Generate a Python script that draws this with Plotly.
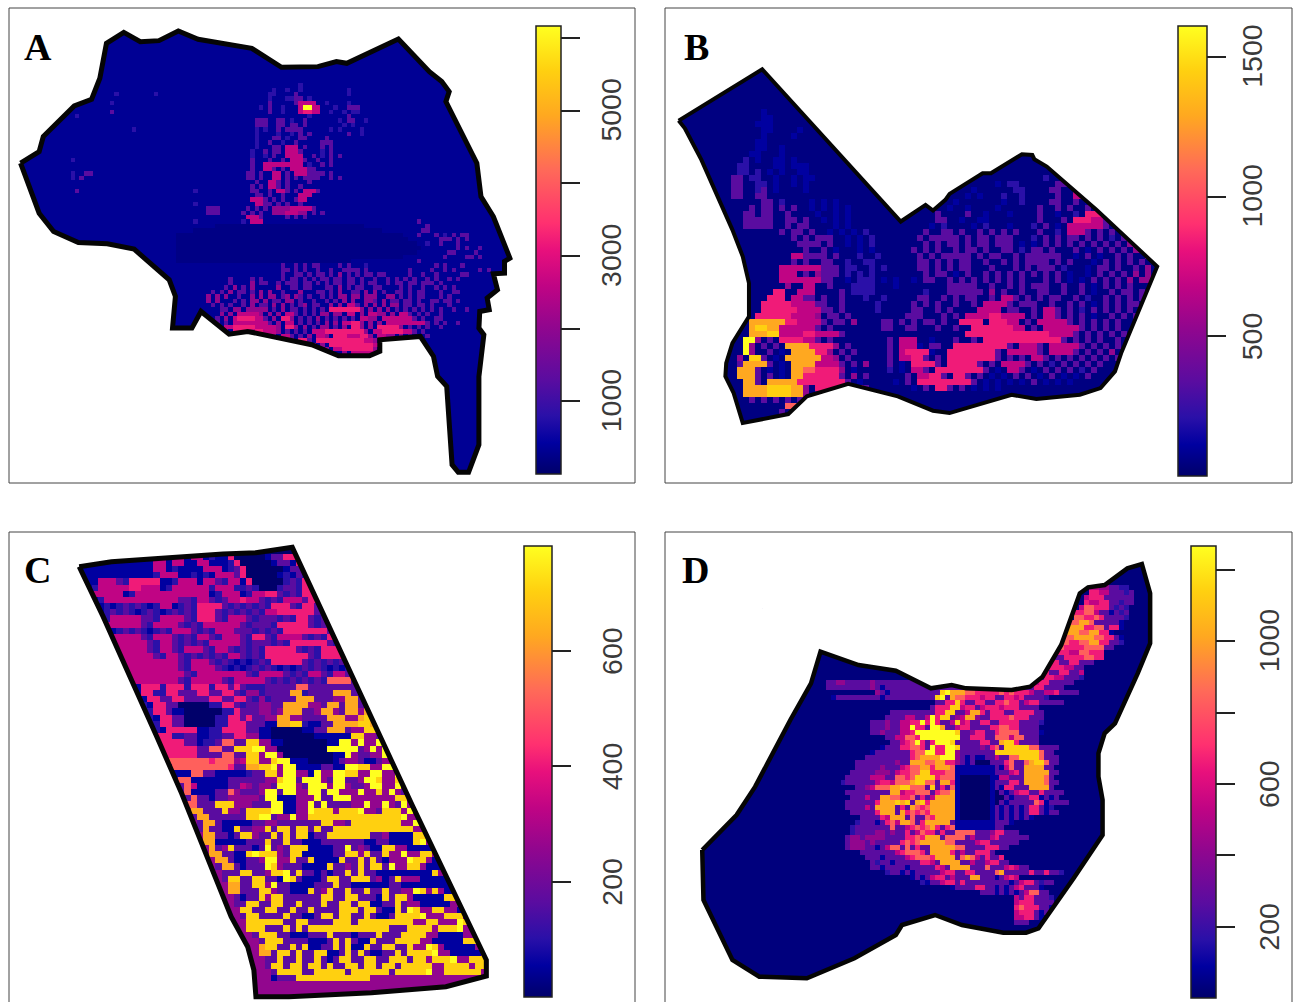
import numpy as np
import plotly.graph_objects as go

# ---------- colour scale and cell levels ----------
COLORSCALE = [[0, "#00006a"], [.07, "#0000a0"], [.13, "#2a10a8"], [.21, "#5a0ca0"], [.33, "#92068e"],
              [.42, "#c00484"], [.50, "#e8107c"], [.56, "#ff3070"], [.68, "#ff6a58"], [.80, "#ffa820"],
              [.90, "#ffd010"], [1, "#ffff20"]]
LEVELS = {",": .035, "0": .0, "1": .07, "2": .13, "3": .21, "4": .33, "5": .42, "6": .52, "7": .66, "8": .80, "9": .90, "Y": 1.0}
HOT = "56789Y"

# ---------- panel A ----------
A_OUTLINE_X = [50,95,105,180,222,242,258,300,340,385,432,480,610,682,770,815,840,965,1040,1070,1088,1080,1155,1165,1195,1235,1222,1222,1195,1205,1180,1185,1162,1160,1172,1160,1160,1135,1110,1095,1082,1060,1050,1018,920,920,895,820,755,600,555,487,465,418,425,410,325,260,190,130,95,50]
A_OUTLINE_Y = [490,455,410,318,298,235,130,97,125,122,93,118,145,202,200,185,190,117,215,245,275,305,490,590,650,775,785,820,822,870,895,930,935,985,1005,1130,1335,1418,1418,1395,1160,1130,1070,1010,1020,1055,1068,1068,1035,995,1003,935,985,985,890,840,748,732,728,695,640,490]
A_ROWS = [
"                                                      2",
"                                                2  2  2          2",
"   2 2      2        2                         22    3           2",
"                                               2   2233 2",
"           2                                   3     3555   2    2",
"                                             2 3  2   5YY5    2  333",
"           3                                   3  2   5665   2  2 22",
"   2                                                    2        3",
"                                            333  33 2  3       2 33  2",
"                                            333  33 33 3        2 2",
"                2                           2 2  3 3333      2 2    2",
"                                            2    2  2 3 3        3  2",
"                                            2   33 2  33    3",
"                                            2  3  2  3     333",
"                                            2   33 55  3   3 3",
"                                           2  3 33 55 3    2 3",
"                                           2  2 3  555   3 2 3 3",
"  2                                        3   3  3 5 53  3  3",
"                                           3  55 55 55  2  3 3",
"                                           3  5 3 3 555 33",
"  2  33                                   33 3  5  3 55 3333 3",
"  2 3                                     33 3  5  3 3 3333  3 3",
"                                            3  5 3 3    3",
"                                           3 3 5 3 3  3",
"   3                          2            33  3 5 3 3 55 3",
"                                            33 3  3   555",
"                                           55 3 3 3  355",
"                              2             5533 3 3  3",
"                                 333      3 3 3 44445555 3",
"                                 333     3 3 3  44455544 3 3",
"                                          55 3     3 3 3",
"                              2          2 55                                    3",
"                                   ,,,,,,,,,,,,,,,,,,,,,,,,,,,,,,,,,,              3",
"                              ,,,,,,,,,,,,,,,,,,,,,,,,,,,,,,,,,,,,,,,,,,,         33",
"                          ,,,,,,,,,,,,,,,,,,,,,,,,,,,,,,,,,,,,,,,,,,,,,,,,,,,,   3   3 2 3 33",
"                          ,,,,,,,,,,,,,,,,,,,,,,,,,,,,,,,,,,,,,,,,,,,,,,,,,,,,,       333 3 3",
"                          ,,,,,,,,,,,,,,,,,,,,,,,,,,,,,,,,,,,,,,,,,,,,,,,,,,,,,,,  2  3   3",
"                          ,,,,,,,,,,,,,,,,,,,,,,,,,,,,,,,,,,,,,,,,,,,,,,,,,,,,,,,,        3 3  3",
"                          ,,,,,,,,,,,,,,,,,,,,,,,,,,,,,,,,,,,,,,,,,,,,,,,,,,,,,,,       33    3",
"                          ,,,,,,,,,,,,,,,,,,,,,,,,,,,,,,,,,,,,,,,,,,,,,,,,,,,,         3    33 3",
"                          ,,,,,,,,,,,,,,,,,,,,,,,,,,,,,,,,,,,,,,,,               3",
"                                                  3  3 3 33    3 3   2               3 3   3",
"                                                  33 3 3  3  3  3333 3         3    3  3 3     3 3",
"                                                  3  33 3 33 3 4 3 3 33 33     3  3  3     33",
"                                      3    3 3    3 33 3 3 33 33 33 3  3  3 3 3 3  3 3  3 3",
"                                      3    4 33  3 333 33 3 3 33 33 3 33  3 33 33 333 3",
"                                     3 4 3 4     4  33 33   33 4 3 33  33    3 3  3  3 3 3",
"                                  3 3 4 33 3 4 4  3   4   33 3 4  33 4 4 3  33 3 33   3  33",
"                                 4 4 4  3  4 4 44 34 43 3  3 3 44 44 444  44 3 3 33   3 3",
"                                 4 4   3 3 44 4 33 44 3  3  3 3 4 4  443 4 33 33 3  33 33 3",
"                                  3 3 3  3 4 33 4 4 3 34 33  4 4 5 3 4 4 4 44 33 33 3   3",
"                                    33 44 44444 3 4 33 3 3 3 6 6666 4 4 4 4 3 3 3 3 3 3  3  3",
"                                    4 4 5555 4 4 4 5 3 3 3 44 44 5  4 5 44 4 5 3 3 3  3",
"                                   3 4 5666 5 3 4 6 4 3 3 4 3 3 3 3 5 44 5 5 55 3 3  33",
"                                   3 3 5555 55 3 4 5  3 3 3 4 4 5 6 4 4 4 5 5555 5 3 3 3  3",
"                                     5 666665 55 4 6 4 4 3 44 3 4 6 4 4 6666 4 3 3 3  3",
"                                     4 6665 6 55 4 3 3 3 55 6666 6 6 4 5 6666 5 3 3",
"                                       4 5 4 3  4 5 3 3 4 5 4 66 55 6 4 5 44 4 3 3 3",
"                                          3 4  55 3 4 6 3 6666 66666 5 4 3 3 3",
"                                                       4 4 4 6666 6666 5 4 3",
"                                                          4 4 5 666 66 4",
"                                                                4 5 5 5 5 4",
"                                                                    5 5 5",
]

# ---------- panel B ----------
B_OUTLINE_X = [75,277,612,665,672,690,720,730,810,830,905,930,935,965,1085,1232,1145,1130,1095,1045,940,880,730,690,605,485,385,340,230,208,188,190,205,245,245,230,205,130,90,75]
B_OUTLINE_Y = [362,208,665,620,615,632,600,582,520,520,463,465,478,500,630,800,1060,1115,1165,1185,1198,1185,1240,1233,1190,1152,1190,1243,1270,1180,1130,1090,1030,950,850,770,690,480,385,362]
B_ROWS = [
"",
"      1",
"      11",
"     111",
"      11    1",
"      1    1",
"     11",
"     11  1",
"    11   1",
"   2 1  11 1                                              1",
"  22    11 111                                            3",
"  22 2 1 1  11                                          11 3",
" 33 22  1  1 11                                      2  3  3 5",
" 33  22 1  1 1                               1 22      33 55",
" 33  23 1    1                           1      22    33  555 3",
" 33  33                                 1 1   2  2     3  5 3 55",
"      33 2    1 1 1                   1       1  2    33  3 1 66",
"    3 33 3 3  1 1 1 1                1  1    1      3  3 3  3 6 6",
"   33 33  3    1  1 1              3    3  1   1    3  1  2 66 3 5 5",
"   33333  33 3  1 1 1              33  1  11        3   3 66 5 3 5 3",
"   33333  3 33    1 1             1 2    1 2   1   2 3 1 555 5 3 3 3",
"         3 33 3  1 1 1 2         3  33 3  3 3 3 3   3  2 55 3 3 3  3",
"           3 3 333  1 1 2       3 33333 3 33 333   2 3 3 33 3 3 2 3 3 3",
"            3333 3  1 1 2        3 3 33 3 33 333 1 1 3 3 3 3 3 3 3 44 3",
"             3  3 1   1 1      3 3 3  3 33 3  33 2 33 3   3 1 3 3 3 444",
"           5 3333 3   2  2      3 3 33333 3 33  3 333333  1 3 1  3 3  444",
"           3 3  33  2  22       33 3 3 33  3  3 3 3333 3 3   1 3 3 3 3  4",
"         5555555333 22  2 2     33 3 3 33   3   3 3 333 2   1 33 3  3 4 44",
"         55  3 4333 2 2 2        3 33 1 3  3 3 3 3 3 3 3 1  1 3 3 3 4 4",
"         555555 33  1 222 1 1  1 33  3 3 3 3 3 3 3   3 3 1 1 3 3 3 4 44",
"          4  5   3   2222   1        33333  3  3 3 333  3  3 1 3 3 3",
"        6   55     3 2222        2   333333 4 3  3  33  3  3 1  3 33 3",
"       66  5 33 3  3   2  2     33  3 3 33  3 5 3 3 3 33  3 2  3 3 3 3",
"      6666 5 5 33  3     2     3 3 3  3  3 5 5 3 333  3  3 3 1 3 3 33",
"      66666 555 33 3     2     33  3 3    5 5  33  3 5 3 3 2 3 3 3 3",
"     66666 5 5 4 33 3         333   3 3 5 5 6 5 5  3 5 3 3 3 1  3 3 3",
"    88888 6 5 5 3 33 4    33 3 3 33 3  6 6  66 5  3 55 5 3 3 3 3 3",
"    8998 5 5 5 3 3        33  33   3  3  6 6 66 5  3 5 5 5 3 3 3 3",
"    88 9 5 5 6 5 5 3                    6 6 6 666 6 6 5 5 3 3 3 3 3",
"   YY4 3 6 6 5 3 3         3 55   1   3  3 6 666 66 6 6 3 3 3 3  3",
"   Y4 3 3 8 8 6 6 4 3      3 55 1 33  666 6666 3 55 3 5 55 3 3 3 3 4",
"   Y4  3 1 8 8 6 4 3 3     3 56 6 1  6 66666 3 5 55 3 5 5 3 3 3 4 3",
"  4 9 3 1 8 8 8 5 4 3      3 5 6 3 3 6 6 6 6 3 3 3 5 3 3 3 3 3 3 3",
"  38 8 3 1 8 8 5 5 3 3 4   3 1 6 6 3 66 6 3 3 5 5 3 3 2 3 3 3 3",
"  88 3 1 1 8 7 6 6 4 1     2 1 5 3 6 6 6 6 3 1 5 3 1 3 3 3 2 3",
"  88 3 3 1 8 6 6 6 3 4 3      3 5 6 3 6 3 3 1 1 3 3 1 3 1 1 3",
"   8 3 8888 6 6 6 6 3 1     1 3 6 66 6 6 3 1 1 1 1 3 1 1 1",
"   8 8 9 9 8 4 6 6 6 5 3       1 3 6 3 3 1 1 1",
"   8 8 9 9 8 4 3 6 6 1",
"    3 3 3 3 3 1 3 3",
"          77777 3",
"         3 3 3",
]

# ---------- panel C ----------
C_OUTLINE_X = [192,270,540,620,708,880,1000,1178,1178,1080,900,700,620,615,600,560,500,440,380,300,250,192]
C_OUTLINE_Y = [170,155,132,128,112,570,890,1350,1398,1430,1448,1460,1460,1380,1310,1220,1030,850,680,460,320,170]
C_ROWS = [
"111111111111111111111111111111000000133566",
"111111111111111551551211600000133666",
"111111111111551551155111260000013316663",
"111111111111551 111155 1 36000000133 666 3",
" 11111111111 55 1121 155 36000001 13 3 36",
" 1155 3 66 6 11 55 15 3 5 1600000 3 66 3 33 36",
" 1 55 5 6 55 1 55 55 25 52 3 000 33 6 3 3 36",
"  55 5 1 5 55 55 5 5 1 55 1 5 6 3 3 66 33 3 66",
"  1 555 5 55 55 33 5 3 35 65 3 3 55 36 33 3 5 3",
"   1 1 3 3 1 5 1 3 666 3 3 3 3 66 3 6 3 66 3 33",
"   1 3 3 1 3 1 3 3 66 3 3 3 3 5 66 66 3 666 3 3",
"   1 5555 33 555 3 66 3 55 3 333 3 6 3 33 3 3 3 3",
"    55555 3 555 3 3 55 55 3 333 6 66 3 3 3 5 3 3 1",
"     1 3 3 1 3 55 3 3 55 333 3 3 66 6 6 3 3 3 1 1",
"     55 5 3 55 3 3 5 3 55 3 6 3 5 5 3 3 66 6 3 5 55",
"     55 55 3 5 3 3 3 55 5 3 333 3 666 6 3 666 3 55 3",
"      5555 3 5 3 55 3 5 3 3 3 66 6 3 3 66 666 3 5 5",
"      5555553 5 3 3 3 3 5 3 3 666 66 3 666666 3 3 55",
"       55555555 3 55 3 3 1 1 3 6666 3 3 3 3 3 3 1 3 55",
"       55555555 3 555 3 1 1 3 3 1 1 3 3 1 1 1 3 1 1",
"       555555555 3 5555 55 3 555 3 3 5 3 5 3 3 3 1 1 77",
"        555555553 5555 3 55 5 3 3 3 3 3 7 7 3 1 3 777",
"        11666266626662663632223333377333333333322111177733",
"         1662266333663366324423333882333388833888233998",
"         1166336633336633663242333388833344883338883399844",
"          2166330000022663233443388884438838834888994",
"          2266311000000226333443488833488438848889944",
"           2166330000022663633448844333388844899443",
"           2266330000022666333118899211338888998",
"            2166666112266663311000001133888344999",
"            6662233112233664411000000011111199443",
"             66663312237733994411000000011YY4Y44YY",
"             666666337733999YY4400000000YYYYY34Y4Y",
"             66666633337733994YY40000000011Y43344Y3",
"              777777767774599449YY11100001344311344Y3",
"               7777777776338899Y4YY11113311YY9944YY43",
"              2111773311111233994YY441Y44YY9944YY44Y43",
"               377111111333333449YY3YYY43YY334YY9449",
"                3751111133543443YYY43YYY4YY4334YY44Y43",
"                37111133743334YY3YY44YY3YY444Y4494Y43",
"                 3733133444443YY111444Y33YYY444444499",
"                 77333999444333YY1144Y3Y333344Y44Y43",
"                  8833394439999YY1144Y9994999Y443999",
"                  38833333399YY344Y449999999999999",
"                   388311111334433333339944399999",
"                   3833119334493993993933999999999",
"                    88331399433939399133999999933",
"                    8811111333933933111333333311",
"                     834933313Y343999111133Y34311",
"                     8833119Y99943991111133994933",
"                      88311334YY449339111193393931",
"                      38831333Y9433311119334393993",
"                       3339933499Y3933131339393311",
"                       3993399331Y9311139933999341",
"                        8833994Y33111133393311111133",
"                        8833399433111934933933933933",
"                         31339499333333993399333193",
"                         3399339933933393399399113393",
"                          993399339339333399939931193",
"                          399333393311399399339311399",
"                           999999339933339993999999999",
"                           9993339393999999999999933399",
"                            39993311133393331333933399",
"                             399933331113939311933399",
"                             8993393911339391193399339",
"                             88399393399113939311339399",
"                              33933933931399339933999399",
"                              399399399393399399399399",
"                               3999933999993999999399",
"                               133399999",
]
# right-hand ends of rows 36 onward, read from the east side of the strip
C_ROW_TAILS = [
"4Y4443",
"9Y4YY34449943",
"4Y4499443Y3",
"YY44Y44999443",
"4499Y449944Y3",
"Y4499944Y94943",
"4Y49949Y44Y43",
"99Y44999999944",
"99944YY999944",
"9999449999943",
"411119944999Y434",
"3311119Y4494Y43",
"99441111499Y4943",
"944Y449944Y944",
"444Y9941111944Y3",
"Y4499411119944Y43",
"1111111944999443",
"39444111111114Y44",
"1111111199944Y443",
"44Y94941111Y4943",
"9941111199944Y43",
"441111144999Y443",
"Y9449944111449",
"99Y444999449Y43",
"4499444Y99449943",
"994999Y4499Y443",
"9944111144Y49Y43",
"99441111199Y44Y3",
"44Y9411111499Y43",
"99Y44111114499Y",
"4999Y4499999Y43",
"9994499994999Y",
"999Y44999999",
"9999999444",
]
C_ROWS = C_ROWS[:36] + [r + t for r, t in zip(C_ROWS[36:], C_ROW_TAILS)] + C_ROWS[36 + len(C_ROW_TAILS):]

# ---------- panel D ----------
D_OUTLINE_X = [132,215,260,345,395,418,510,570,600,685,735,770,880,925,955,1000,1045,1065,1105,1160,1195,1215,1215,1185,1130,1105,1090,1090,1100,1100,1030,945,915,860,760,695,615,600,500,385,270,205,135,132]
D_OUTLINE_Y = [1020,915,830,630,520,425,465,475,482,535,525,535,540,530,500,405,250,232,225,175,162,250,400,490,640,670,730,800,870,975,1105,1255,1268,1268,1245,1215,1245,1275,1345,1405,1400,1350,1170,1020]
D_ROWS = [
"                                                          55443322",
"                                                          665533 23",
"                                                         566633 3 3",
"                                                         655663 2 3",
"                                                        577666 2 2",
"                                                       66775331 23",
"                                                       77667633 32",
"                                                      77887333  1",
"                                                     888866773661",
"                                                    88887788661",
"                                                   77778888776631",
"                                                  667766778866332",
"                                                 66776666777733",
"                                                5566665577666",
"                                               55663366667766",
"                                              6655663366333",
"                                             555566665533",
"                                            5566663366335",
"                                           556633665533 2",
"     3344333  4                           6633556633333",
"     3333 33  4 1                        665533663333",
"               4 1          9Y88877666667676665335563333",
"      1         1          9Y3877666566336656333 2",
"                           3366963366336676635663 3 3",
"                          3666995663566656663333",
"                  33  333336699335886366633666633",
"                 333355335Y699 4588433666676663 3",
"              3334335566Y6Y63359563366336666333 2",
"              33343355Y663YY8335663 3366776633 3",
"              334333556YYYYYYYY9334663367777333 1",
"                 3355776YYYYYYYY33666337775773 3",
"                  33567Y6 6YYY9333 36633899633 3",
"                1 3366776 Y66YY93 3343673999997733 3",
"              1  3333 677YY66YY4 3 3333999999999733",
"             33 33333 678888YYY4 1 11 353377999973 3",
"           3 3 33 34338887788664 1 000 33673378997 3",
"           3 3 3433 5677886888773 1 000 15733888833",
"          33333444356677996667766 1 000 3356 8888833",
"         33333555337767999967776 1 000 155 33888873",
"        2 3 3 3566577789977 88663 1 000 3366388887 3",
"           33457778899777 9 63773 1 000 16633 88883",
"         3 3 33 3388566777 67788763 1 00 1 5663 6 3 3",
"          33 5338877667 6 5888857763 1 00 1 33661 13",
"         3 3 3 6888989 89688888733 7 1 0 1 3 3 761 3 3",
"         3 3 538888 6 8767888888333 6 1 1 1 1 66 12",
"          3 3 36888 86767688888 36 36 3 1 1 1 66 1 3",
"            3 3 65888 73 7688888 6 36 3 1 1 1 1",
"           2 3 1 6758873688888 663 63 3 3 1",
"          2 3 3 3 73 5676786 67 86 35 3 3",
"          2 3 344 4 36 5766 6 37777 3 466 33",
"         344 4444 33 6676888 7777 5 3 56 3 3 3",
"         3444 4333 367678888877 33 566 3 3 3",
"         34443 1 577 7 6 38888877 33 666 3",
"            3333 3 567776 88886 53 6663",
"             33 1 33 5677768888 7875 6 36",
"              32 31 333 665 88883 53 566 3",
"              3 1 33 1 333 65 88883 37 3 565 3",
"                 23 1 133 3 566 3663 3 78 3 3 63 6 32",
"                      1 135663533 88 3 1 565",
"                        21 3566 6 3 3 3 3 1 566 2 3",
"                              1 33 663 1 1 5633 1",
"                                    33 1 1 1 57733",
"                                           5366 3 2",
"                                           5666 3 3",
"                                           67666 31",
"                                           5666 1 2",
"                                           5566 1",
"                                           333",
]
# first row, last row, first column, last column, level of the empty block in the middle of D
D_BLOCKS = [(36, 48, 31, 38, "1"), (38, 46, 32, 37, "0")]

# ---------- panel settings ----------
PANELS = [
    dict(name="A", box=(9, 635, 8, 483), xr=(22, 1538), yr=(1450, 24), ox=A_OUTLINE_X, oy=A_OUTLINE_Y, rows=A_ROWS, blocks=[],
         origin=(150, 250), cell=(10.6, 13.2), lw=5, base=.055, gap=None, fill_hot=True, zmax=6164, zmin=0,
         ticks=[1000, 2000, 3000, 4000, 5000, 6000], labels=["1000", "", "3000", "", "5000", ""],
         bar=(536, 561, 26, 474), letter=(38, 47), label_x=611),
    dict(name="B", box=(665, 1292, 8, 483), xr=(42, 1558), yr=(1450, 24), ox=B_OUTLINE_X, oy=B_OUTLINE_Y, rows=B_ROWS, blocks=[],
         origin=(188, 310), cell=(14.5, 18), lw=4, base=.03, gap=None, fill_hot=True, zmax=1610, zmin=0,
         ticks=[500, 1000, 1500], labels=["500", "1000", "1500"],
         bar=(1178, 1207, 26, 476), letter=(696, 47), label_x=1252),
    dict(name="C", box=(9, 635, 532, 1010), xr=(22, 1538), yr=(1500, 66), ox=C_OUTLINE_X, oy=C_OUTLINE_Y, rows=C_ROWS, blocks=[],
         origin=(192, 112), cell=(15, 18.6), lw=5, base=.07, gap="2", fill_hot=True, zmax=782, zmin=0,
         ticks=[200, 400, 600], labels=["200", "400", "600"],
         bar=(524, 552, 546, 997), letter=(37, 570), label_x=612),
    dict(name="D", box=(665, 1292, 532, 1010), xr=(42, 1558), yr=(1500, 66), ox=D_OUTLINE_X, oy=D_OUTLINE_Y, rows=D_ROWS, blocks=D_BLOCKS,
         origin=(370, 225), cell=(12, 15), lw=4.5, base=.025, gap="3", fill_hot=False, zmax=1267, zmin=0,
         ticks=[200, 400, 600, 800, 1000, 1200], labels=["200", "", "600", "", "1000", ""],
         bar=(1191, 1216, 546, 998), letter=(695, 570), label_x=1269),
]

W, H = 1296, 1002


def signed_area(x, y):
    x, y = np.asarray(x, float), np.asarray(y, float)
    return .5 * np.sum(x[:-1] * y[1:] - x[1:] * y[:-1])


fig = go.Figure()
shapes, annotations = [], []
layout_axes = {}
for k, p in enumerate(PANELS):
    sfx = "" if k == 0 else str(k + 1)
    xa, ya = "x" + sfx, "y" + sfx
    x0, x1, y0, y1 = p["box"]
    visible_bottom = min(y1, H)
    frac = (visible_bottom - y0) / (y1 - y0)
    yr_low = p["yr"][1] + (p["yr"][0] - p["yr"][1]) * frac
    layout_axes["xaxis" + sfx] = dict(domain=[x0 / W, x1 / W], range=list(p["xr"]), visible=False, anchor=ya, fixedrange=True)
    layout_axes["yaxis" + sfx] = dict(domain=[1 - visible_bottom / H, 1 - y0 / H], range=[yr_low, p["yr"][1]], visible=False, anchor=xa, fixedrange=True)

    dx, dy = p["cell"]
    ox0, oy0 = p["origin"]
    cmin = int(np.floor((min(p["ox"]) - ox0) / dx)) - 1
    cmax = int(np.ceil((max(p["ox"]) - ox0) / dx)) + 1
    rmin = int(np.floor((min(p["oy"]) - oy0) / dy)) - 1
    rmax = int(np.ceil((max(p["oy"]) - oy0) / dy)) + 1
    cols = np.arange(cmin, cmax + 1)
    rws = np.arange(rmin, rmax + 1)
    z = np.full((len(rws), len(cols)), p["base"] * p["zmax"])
    if p["name"] == "C":
        z[rws >= 22, :] = LEVELS["4"] * p["zmax"]
    for i, r in enumerate(p["rows"]):
        first = len(r) - len(r.lstrip())
        last = len(r.rstrip())
        prev = " "
        for j, ch in enumerate(r):
            if ch == " ":
                if first <= j < last:
                    if p["fill_hot"] and prev in HOT:
                        ch = prev
                    elif p["gap"] is not None:
                        ch = p["gap"]
                prev = " "
            else:
                prev = ch
            if ch in LEVELS and i - rmin < len(rws) and 0 <= j - cmin < len(cols):
                z[i - rmin, j - cmin] = LEVELS[ch] * p["zmax"]
    for r0, r1, c0, c1, lev in p["blocks"]:
        z[r0 - rmin:r1 - rmin + 1, c0 - cmin:c1 - cmin + 1] = LEVELS[lev] * p["zmax"]
    gx = ox0 + (cols + .5) * dx
    gy = oy0 + (rws + .5) * dy
    ca = "coloraxis" + ("" if k == 0 else str(k + 1))
    fig.add_trace(go.Heatmap(z=z.tolist(), x=gx.tolist(), y=gy.tolist(), coloraxis=ca, xaxis=xa, yaxis=ya, hoverinfo="skip"))

    # white surround with the region's outline as a hole, so cells show only inside it
    ring_x, ring_y = list(p["ox"]), list(p["oy"])
    m = 6 * max(dx, dy)
    rx = [min(ring_x) - m, max(ring_x) + m, max(ring_x) + m, min(ring_x) - m, min(ring_x) - m]
    ry = [min(ring_y) - m, min(ring_y) - m, max(ring_y) + m, max(ring_y) + m, min(ring_y) - m]
    if signed_area(ring_x, ring_y) * signed_area(rx, ry) > 0:
        ring_x, ring_y = ring_x[::-1], ring_y[::-1]
    i0 = int(np.argmin(np.asarray(ring_x) + np.asarray(ring_y)))
    ring_x = ring_x[i0:] + ring_x[1:i0 + 1]
    ring_y = ring_y[i0:] + ring_y[1:i0 + 1]
    fig.add_trace(go.Scatter(x=rx + ring_x + [rx[0]], y=ry + ring_y + [ry[0]], mode="lines", fill="toself", fillcolor="white",
                             line=dict(width=0), xaxis=xa, yaxis=ya, hoverinfo="skip", showlegend=False))
    fig.add_trace(go.Scatter(x=p["ox"], y=p["oy"], mode="lines", line=dict(color="#050505", width=p["lw"]),
                             xaxis=xa, yaxis=ya, hoverinfo="skip", showlegend=False))

    bx0, bx1, by0, by1 = p["bar"]
    layout_axes[ca] = dict(
        colorscale=COLORSCALE, cmin=p["zmin"], cmax=p["zmax"],
        colorbar=dict(x=bx0 / W, xanchor="left", xpad=0, y=1 - by0 / H, yanchor="top", ypad=0,
                      thicknessmode="pixels", thickness=bx1 - bx0, lenmode="pixels", len=by1 - by0,
                      outlinecolor="#222", outlinewidth=1.5, ticks="outside", ticklen=19, tickwidth=1.5, tickcolor="#222",
                      tickmode="array", tickvals=p["ticks"], ticktext=[" "] * len(p["ticks"]),
                      tickfont=dict(family="Liberation Sans", size=2)))
    for v, lab in zip(p["ticks"], p["labels"]):
        if lab:
            ty = by1 - (v - p["zmin"]) / (p["zmax"] - p["zmin"]) * (by1 - by0)
            annotations.append(dict(text=lab, xref="paper", yref="paper", x=p["label_x"] / W, y=1 - ty / H,
                                    xanchor="center", yanchor="middle", showarrow=False, textangle=-90,
                                    font=dict(family="Liberation Sans", size=28.5, color="#3a3a3a")))
    shapes.append(dict(type="rect", xref="paper", yref="paper", x0=x0 / W, x1=x1 / W, y0=1 - y1 / H, y1=1 - y0 / H,
                       line=dict(color="#444", width=1), layer="above"))
    annotations.append(dict(text=p["name"], xref="paper", yref="paper", x=p["letter"][0] / W, y=1 - p["letter"][1] / H,
                            xanchor="center", yanchor="middle", showarrow=False,
                            font=dict(family="Liberation Serif", size=38, color="black", weight="bold")))

fig.update_layout(width=W, height=H, margin=dict(l=0, r=0, t=0, b=0), paper_bgcolor="white", plot_bgcolor="white",
                  showlegend=False, shapes=shapes, annotations=annotations, **layout_axes)
fig.write_html("out.html", config={"displayModeBar": False}, post_script="document.body.style.margin='0';")
